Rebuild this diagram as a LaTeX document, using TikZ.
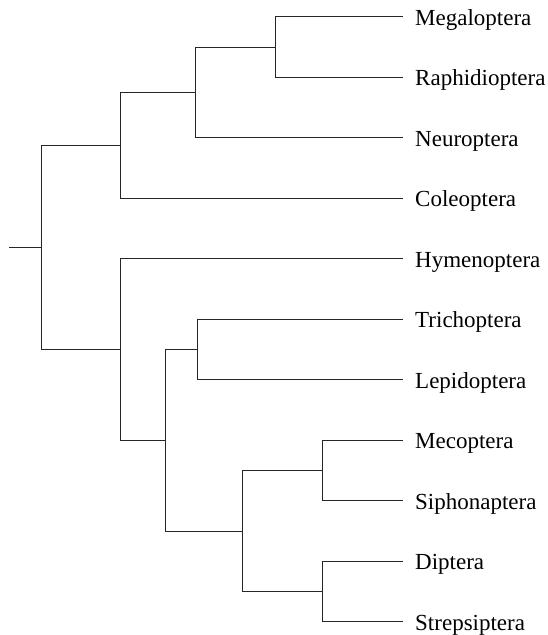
\documentclass[tikz,border=0pt]{standalone}
\usepackage{fontspec}
\setmainfont{Liberation Serif}
\begin{document}
\begin{tikzpicture}[x=1pt,y=-1pt,
  branch/.style={draw=black!85,line width=0.9pt},
  taxon/.style={anchor=base west,inner sep=0pt,font=\fontsize{23}{27}\selectfont}]
\useasboundingbox (0,0) rectangle (547,635);
% leaf tips
\foreach \n/\y in {Meg/16.7,Rap/77.2,Neu/137.7,Col/198.2,Hym/258.7,Tri/319.2,Lep/379.7,Mec/440.2,Sip/500.7,Dip/561.2,Str/621.7}{
  \coordinate (t\n) at (402.7,\y);
}
\node[taxon] (Meg) at (415,25.2) {Megaloptera};
\node[taxon] (Rap) at (415,85.7) {Raphidioptera};
\node[taxon] (Neu) at (415,146.2) {Neuroptera};
\node[taxon] (Col) at (415,206.7) {Coleoptera};
\node[taxon] (Hym) at (415,267.2) {Hymenoptera};
\node[taxon] (Tri) at (415,327.7) {Trichoptera};
\node[taxon] (Lep) at (415,388.2) {Lepidoptera};
\node[taxon] (Mec) at (415,448.7) {Mecoptera};
\node[taxon] (Sip) at (415,509.2) {Siphonaptera};
\node[taxon] (Dip) at (415,569.7) {Diptera};
\node[taxon] (Str) at (415,630.2) {Strepsiptera};
% internal nodes
\coordinate (n1) at (275.7,47);
\coordinate (n2) at (195.7,92.3);
\coordinate (n3) at (120,145.3);
\coordinate (n4) at (197.7,349.5);
\coordinate (n5) at (322.7,470.5);
\coordinate (n6) at (322.7,591.5);
\coordinate (n7) at (242.7,531);
\coordinate (n8) at (165.7,440.2);
\coordinate (n9) at (120,349.5);
\coordinate (r) at (41.7,247.4);
\coordinate (stub) at (9,247.4);
% branches
\draw[branch] (n1) |- (tMeg); \draw[branch] (n1) |- (tRap);
\draw[branch] (n2) |- (n1);   \draw[branch] (n2) |- (tNeu);
\draw[branch] (n3) |- (n2);   \draw[branch] (n3) |- (tCol);
\draw[branch] (n4) |- (tTri); \draw[branch] (n4) |- (tLep);
\draw[branch] (n5) |- (tMec); \draw[branch] (n5) |- (tSip);
\draw[branch] (n6) |- (tDip); \draw[branch] (n6) |- (tStr);
\draw[branch] (n7) |- (n5);   \draw[branch] (n7) |- (n6);
\draw[branch] (n8) |- (n4);   \draw[branch] (n8) |- (n7);
\draw[branch] (n9) |- (tHym); \draw[branch] (n9) |- (n8);
\draw[branch] (r) |- (n3);    \draw[branch] (r) |- (n9);
\draw[branch] (stub) -- (r);
\end{tikzpicture}
\end{document}
